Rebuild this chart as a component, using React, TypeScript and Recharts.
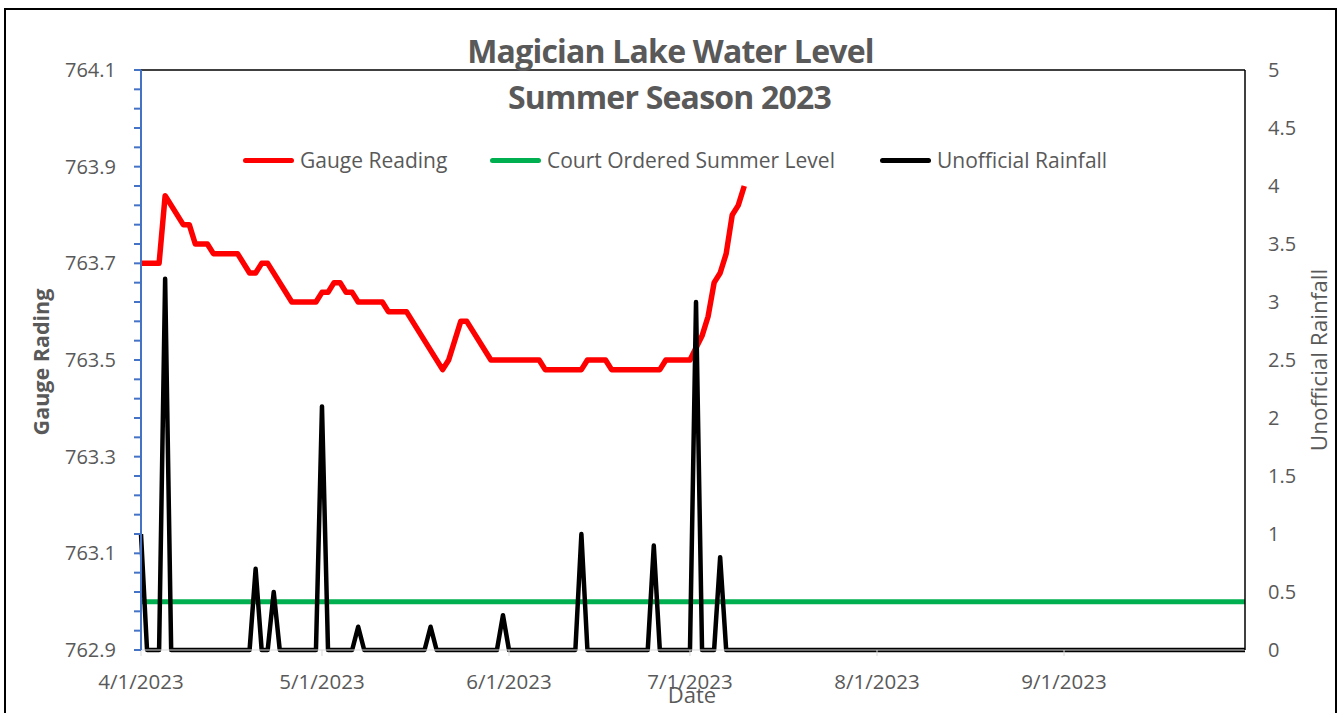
import React from "react";
import { LineChart, Line, XAxis, YAxis, ReferenceLine } from "recharts";

// days counted from 4/1/2023
const gaugeDays = [0, 3, 4, 7, 8, 9, 11, 12, 16, 18, 19, 20, 21, 25, 29, 30, 31, 32, 33, 34, 35, 36, 40, 41, 44, 50, 51, 53, 54, 58, 66, 67, 73, 74, 77, 78, 86, 87, 91, 93, 94, 95, 96, 97, 98, 99, 100];
const gaugeLevels = [763.7, 763.7, 763.84, 763.78, 763.78, 763.74, 763.74, 763.72, 763.72, 763.68, 763.68, 763.7, 763.7, 763.62, 763.62, 763.64, 763.64, 763.66, 763.66, 763.64, 763.64, 763.62, 763.62, 763.6, 763.6, 763.48, 763.5, 763.58, 763.58, 763.5, 763.5, 763.48, 763.48, 763.5, 763.5, 763.48, 763.48, 763.5, 763.5, 763.55, 763.59, 763.66, 763.68, 763.72, 763.8, 763.82, 763.86];

const rainDays = [0, 1, 3, 4, 5, 18, 19, 20, 21, 22, 23, 29, 30, 31, 35, 36, 37, 47, 48, 49, 59, 60, 61, 72, 73, 74, 84, 85, 86, 91, 92, 93, 95, 96, 97, 183];
const rainAmounts = [1.0, 0, 0, 3.2, 0, 0, 0.7, 0, 0, 0.5, 0, 0, 2.1, 0, 0, 0.2, 0, 0, 0.2, 0, 0, 0.3, 0, 0, 1.0, 0, 0, 0.9, 0, 0, 3.0, 0, 0, 0.8, 0, 0];

const courtDays = [0, 183];
const courtLevels = [763.0, 763.0];

const monthTicks = [0, 30, 61, 91, 122, 153];
const leftMajor = [762.9, 763.1, 763.3, 763.5, 763.7, 763.9, 764.1];
const rightTicks = [0, 0.5, 1, 1.5, 2, 2.5, 3, 3.5, 4, 4.5, 5];

const gaugeData = gaugeDays.map((d, i) => ({ day: d, level: gaugeLevels[i] }));
const rainData = rainDays.map((d, i) => ({ day: d, rain: rainAmounts[i] }));
const courtData = courtDays.map((d, i) => ({ day: d, court: courtLevels[i] }));

// minor ticks every 0.04 on the left axis
const leftTicks: number[] = [];
for (let i = 0; i <= 30; i++) leftTicks.push(Math.round((762.9 + i * 0.04) * 100) / 100);

const FONT = "'Open Sans', sans-serif";
const GRAY = "#595959";

const fmtDate = (d: number) => {
  const dt = new Date(2023, 3, 1 + d);
  return `${dt.getMonth() + 1}/${dt.getDate()}/${dt.getFullYear()}`;
};

const legendItems = [
  { name: "Gauge Reading", color: "#ff0000", left: 243 },
  { name: "Court Ordered Summer Level", color: "#00b050", left: 490 },
  { name: "Unofficial Rainfall", color: "#000000", left: 880 },
];

function ChartLegend() {
  return (
    <div style={{ position: "absolute", left: 0, top: 145, width: 1339, height: 30 }}>
      {legendItems.map((it) => (
        <div key={it.name} style={{ position: "absolute", left: it.left, top: 0, height: 30, display: "flex", alignItems: "center" }}>
          <div style={{ width: 51, height: 5, borderRadius: 3, background: it.color }} />
          <span style={{ marginLeft: 6, fontSize: 21, color: GRAY, fontFamily: FONT, whiteSpace: "nowrap" }}>{it.name}</span>
        </div>
      ))}
    </div>
  );
}

export default function App() {
  return (
    <div style={{ position: "absolute", left: 0, top: 0, width: 1339, height: 713, background: "#fff", overflow: "hidden" }}>
      <div style={{ position: "absolute", left: 4, top: 8, width: 1329, height: 720, border: "2px solid #000" }} />
      <div style={{ position: "absolute", left: 0, top: 0 }}>
        <LineChart width={1339} height={713} margin={{ top: 70, right: 0, left: 0, bottom: 0 }}>
          <XAxis
            dataKey="day"
            type="number"
            domain={[0, 183]}
            ticks={monthTicks}
            tickFormatter={fmtDate}
            height={63}
            stroke="#d9d9d9"
            tickSize={6}
            tickMargin={18}
            tick={{ fill: GRAY, fontSize: 20.5, fontFamily: FONT }}
          />
          <YAxis
            yAxisId="left"
            orientation="left"
            width={141}
            domain={[762.9, 764.1]}
            ticks={leftTicks}
            interval={0}
            tickFormatter={(v: number) => (leftMajor.some((m) => Math.abs(m - v) < 0.001) ? v.toFixed(1) : "")}
            stroke="#4472c4"
            strokeWidth={2}
            tickSize={7}
            tickMargin={18}
            tick={{ fill: GRAY, fontSize: 20, fontFamily: FONT }}
          />
          <YAxis
            yAxisId="right"
            orientation="right"
            width={94}
            domain={[0, 5]}
            ticks={rightTicks}
            interval={0}
            stroke="#000"
            strokeWidth={1.5}
            tickLine={false}
            tickSize={0}
            tickMargin={23}
            tick={{ fill: GRAY, fontSize: 20, fontFamily: FONT, textAnchor: "start" }}
          />
          <ReferenceLine yAxisId="left" y={764.1} stroke="#000" strokeWidth={1.5} />
          <Line
            yAxisId="left"
            data={courtData}
            dataKey="court"
            name="Court Ordered Summer Level"
            stroke="#00b050"
            strokeWidth={5}
            dot={false}
            isAnimationActive={false}
          />
          <Line
            yAxisId="left"
            data={gaugeData}
            dataKey="level"
            name="Gauge Reading"
            stroke="#ff0000"
            strokeWidth={5.5}
            strokeLinejoin="round"
            dot={false}
            isAnimationActive={false}
          />
          <Line
            yAxisId="right"
            data={rainData}
            dataKey="rain"
            name="Unofficial Rainfall"
            stroke="#000"
            strokeWidth={4.5}
            strokeLinejoin="round"
            dot={false}
            isAnimationActive={false}
          />
        </LineChart>
      </div>
      <div style={{ position: "absolute", left: 0, top: 28, width: 1339, textAlign: "center", fontFamily: FONT, fontWeight: 700, fontSize: 32, color: GRAY, lineHeight: "46px", letterSpacing: -0.8 }}>
        <div style={{ marginLeft: 2 }}>Magician Lake Water Level</div>
        <div>Summer Season 2023</div>
      </div>
      <ChartLegend />
      <div style={{ position: "absolute", left: 40, top: 362, transform: "translate(-50%, -50%) rotate(-90deg)", whiteSpace: "nowrap", fontFamily: FONT, fontWeight: 700, fontSize: 21.5, color: GRAY }}>
        Gauge Rading
      </div>
      <div style={{ position: "absolute", left: 1318, top: 360, transform: "translate(-50%, -50%) rotate(-90deg)", whiteSpace: "nowrap", fontFamily: FONT, fontSize: 22.5, color: GRAY }}>
        Unofficial Rainfall
      </div>
      <div style={{ position: "absolute", left: 692, top: 694, transform: "translate(-50%, -50%)", fontFamily: FONT, fontSize: 22, color: GRAY }}>
        Date
      </div>
    </div>
  );
}
